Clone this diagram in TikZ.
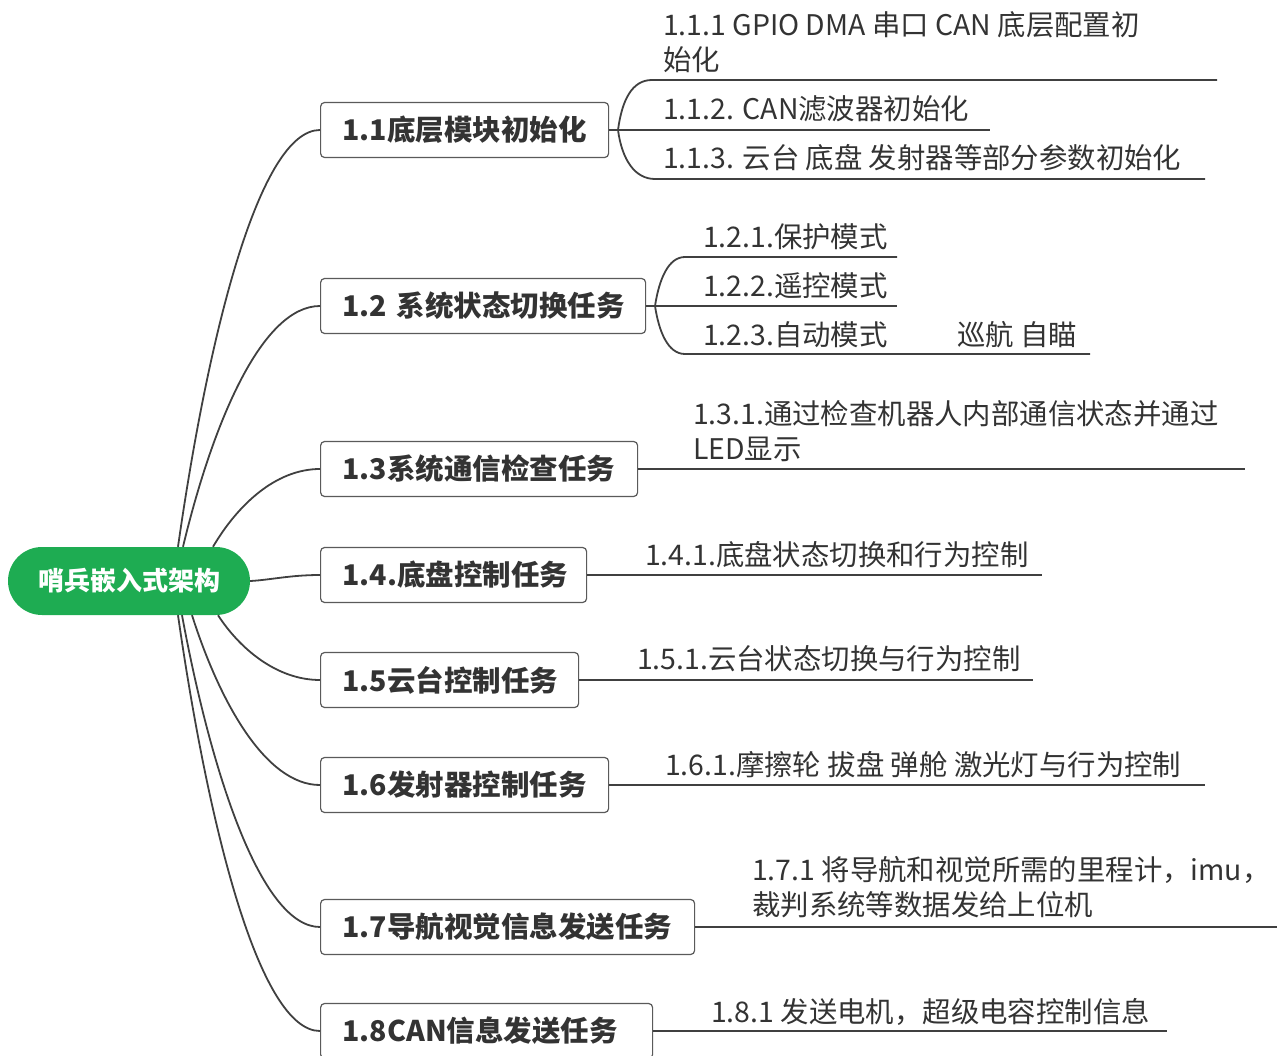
\documentclass[tikz,border=0pt]{standalone}
\usepackage{fontspec}
\setmainfont{Noto Sans CJK SC}
\definecolor{rootgreen}{RGB}{30,172,82}
\definecolor{linec}{RGB}{64,64,64}
\definecolor{boxc}{RGB}{90,90,90}
\definecolor{txt}{RGB}{51,51,51}
\begin{document}
\begin{tikzpicture}[x=1pt,y=-1pt,
 conn/.style={draw=linec, line width=1.8pt},
 topic/.style={draw=boxc, line width=1.2pt, fill=white, rounded corners=4pt, minimum height=55pt, anchor=west, inner xsep=22pt, inner ysep=0pt, text width=#1, align=left, font=\fontsize{28.5}{32}\selectfont\bfseries, text=txt},
 leaf/.style={anchor=west, inner sep=0pt, align=left, font=\fontsize{28.4}{35}\selectfont, text=txt},
 rootnode/.style={fill=rootgreen, rounded corners=34pt, minimum width=242pt, minimum height=68pt, inner sep=0pt, text=white, font=\fontsize{26}{30}\selectfont\bfseries}]
\useasboundingbox (0,0) rectangle (1277,1056);
\node[rootnode] (root) at (129,581) {哨兵嵌入式架构};
\node[topic=244] (t1) at (320,130) {1.1底层模块初始化};
\node[topic=281] (t2) at (320,306) {1.2~系统状态切换任务};
\node[topic=273] (t3) at (320,469) {1.3系统通信检查任务};
\node[topic=222] (t4) at (320,575) {1.4.底盘控制任务};
\node[topic=214] (t5) at (320,680) {1.5云台控制任务};
\node[topic=244] (t6) at (320,785) {1.6发射器控制任务};
\node[topic=330] (t7) at (320,927) {1.7导航视觉信息发送任务};
\node[topic=288] (t8) at (320,1031) {1.8CAN信息发送任务};
% root connectors
\coordinate (r1) at ([xshift=49pt]root.north);
\coordinate (r2) at ([xshift=54pt]root.north);
\coordinate (r3) at ([xshift=84pt]root.north);
\coordinate (r5) at ([xshift=89pt]root.south);
\coordinate (r6) at ([xshift=63pt]root.south);
\coordinate (r7) at ([xshift=53pt]root.south);
\coordinate (r8) at ([xshift=49pt]root.south);
\draw[conn] (r1) .. controls (209,330) and (260,130) .. (t1.west);
\draw[conn] (r2) .. controls (213,422) and (262,306) .. (t2.west);
\draw[conn] (r3) .. controls (237,506) and (275,469) .. (t3.west);
\draw[conn] (root.east) .. controls (270,580) and (290,575) .. (t4.west);
\draw[conn] (r5) .. controls (240,649) and (277,680) .. (t5.west);
\draw[conn] (r6) .. controls (220,703) and (266,785) .. (t6.west);
\draw[conn] (r7) .. controls (212,777) and (262,927) .. (t7.west);
\draw[conn] (r8) .. controls (209,831) and (260,1031) .. (t8.west);
% leaves
\node[leaf] (l111) at (663,42) {1.1.1 GPIO DMA 串口 CAN 底层配置初\\始化};
\node[leaf] (l112) at (663,109) {1.1.2. CAN滤波器初始化};
\node[leaf] (l113) at (663,158) {1.1.3. 云台 底盘 发射器等部分参数初始化};
\node[leaf] (l121) at (703,237) {1.2.1.保护模式};
\node[leaf] (l122) at (703,286) {1.2.2.遥控模式};
\node[leaf] (l123) at (703,335) {\makebox[254pt][l]{1.2.3.自动模式}巡航 自瞄};
\node[leaf] (l131) at (693,431) {1.3.1.通过检查机器人内部通信状态并通过\\LED显示};
\node[leaf] (l141) at (645,555) {1.4.1.底盘状态切换和行为控制};
\node[leaf] (l151) at (637,659) {1.5.1.云台状态切换与行为控制};
\node[leaf] (l161) at (665,765) {1.6.1.摩擦轮 拔盘 弹舱 激光灯与行为控制};
\node[leaf] (l171) at (752,887) {1.7.1 将导航和视觉所需的里程计，imu，\\裁判系统等数据发给上位机};
\node[leaf] (l181) at (711,1012) {1.8.1 发送电机，超级电容控制信息};
% branch connectors 1.1
\coordinate (j1) at (618,130);
\coordinate (u111e) at (1217,80);
\coordinate (u112e) at (990,130);
\coordinate (u113e) at (1205,179);
\draw[conn] (t1.east) -- (j1) -- (u112e);
\draw[conn] (j1) .. controls (622,100) and (632,80) .. (652,80) -- (u111e);
\draw[conn] (j1) .. controls (622,160) and (635,179) .. (655,179) -- (u113e);
% branch connectors 1.2
\coordinate (j2) at (655,306);
\coordinate (u121e) at (897,257);
\coordinate (u122e) at (897,306);
\coordinate (u123e) at (1090,354);
\draw[conn] (t2.east) -- (j2) -- (u122e);
\draw[conn] (j2) .. controls (659,280) and (668,257) .. (685,257) -- (u121e);
\draw[conn] (j2) .. controls (659,332) and (668,354) .. (685,354) -- (u123e);
% single leaf underlines
\coordinate (u131e) at (1245,469);
\coordinate (u141e) at (1042,575);
\coordinate (u151e) at (1033,680);
\coordinate (u161e) at (1205,785);
\coordinate (u171e) at (1277,927);
\coordinate (u181e) at (1167,1031);
\draw[conn] (t3.east) -- (u131e);
\draw[conn] (t4.east) -- (u141e);
\draw[conn] (t5.east) -- (u151e);
\draw[conn] (t6.east) -- (u161e);
\draw[conn] (t7.east) -- (u171e);
\draw[conn] (t8.east) -- (u181e);
\end{tikzpicture}
\end{document}
